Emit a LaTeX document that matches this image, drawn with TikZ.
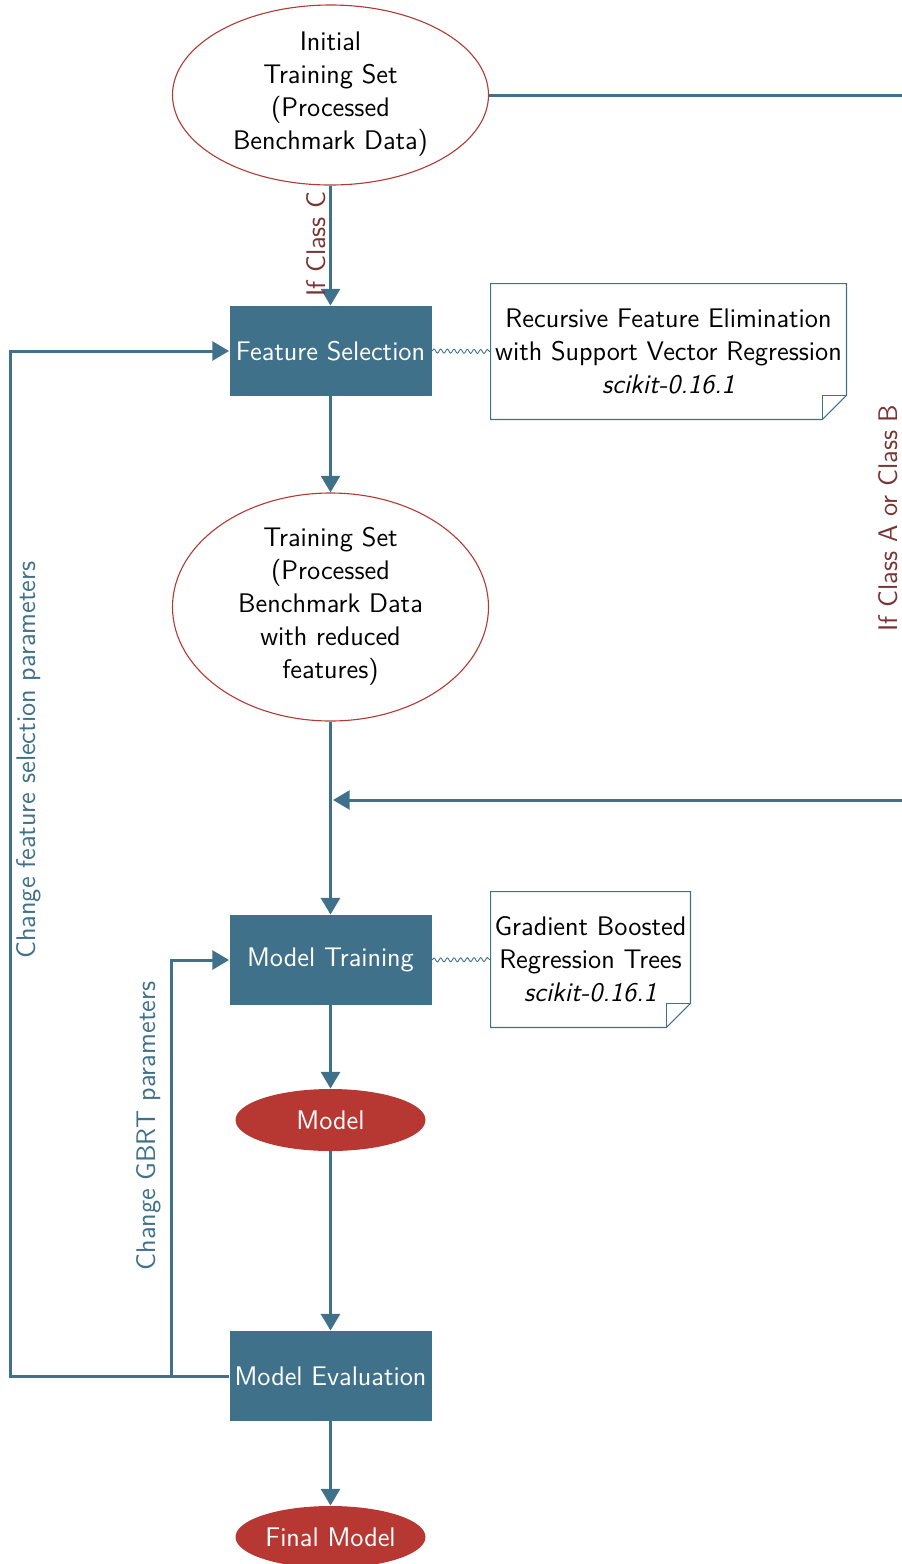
\documentclass[tikz,border=0pt]{standalone}
\usetikzlibrary{arrows.meta,shapes.geometric,decorations.pathmorphing}
\definecolor{steel}{HTML}{40718A}
\definecolor{redfill}{HTML}{B73832}
\definecolor{redline}{HTML}{B23A35}
\definecolor{lblred}{HTML}{7A3434}
\begin{document}
\begin{tikzpicture}[x=0.45pt,y=-0.45pt,
  font=\sffamily\fontsize{12.1}{14.85}\selectfont,
  proc/.style={rectangle, fill=steel, text=white, minimum width=90.9pt, minimum height=40.5pt, inner sep=0pt},
  dataell/.style={ellipse, draw=redline, line width=0.5pt, minimum width=142.2pt, inner sep=0pt},
  modell/.style={ellipse, fill=redfill, text=white, minimum width=85.5pt, minimum height=27.9pt, inner sep=0pt},
  flow/.style={draw=steel, line width=1.35pt, -{Triangle[length=7.5pt,width=8.5pt]}},
  link/.style={draw=steel, line width=1.35pt},
  notebox/.style={rectangle, align=center, inner sep=0pt, minimum height=60.75pt},
  noteline/.style={draw=steel, line width=0.5pt},
  wiggle/.style={draw=steel, line width=0.4pt, decorate, decoration={snake, amplitude=0.9pt, segment length=3pt}},
  lbl/.style={rotate=90, inner sep=0pt}
]
\useasboundingbox (0,0) rectangle (902,1564);

% data ellipses
\node[dataell, minimum height=81pt] (e1) at (330.5,95) {};
\node[align=center] (e1t) at (330.5,94) {Initial\\Training Set\\(Processed\\Benchmark Data)};
\node[dataell, minimum height=102.6pt] (e2) at (330.5,607) {};
\node[align=center] (e2t) at (330.5,606) {Training Set\\(Processed\\Benchmark Data\\with reduced\\features)};

% process boxes
\node[proc] (fs) at (330.5,351) {Feature Selection};
\node[proc] (mt) at (330.5,960) {Model Training};
\node[proc] (me) at (330.5,1376) {Model Evaluation};

% model ellipses
\node[modell] (mo) at (330.5,1120) {Model};
\node[modell] (fm) at (330.5,1537) {Final Model};

% notes
\node[notebox, minimum width=159.75pt] (n1) at (668.5,351.5) {Recursive Feature Elimination\\with Support Vector Regression\\\textit{scikit-0.16.1}};
\draw[noteline] (n1.north west) -- (n1.north east) -- ([yshift=10.8pt]n1.south east) -- ([xshift=-10.8pt]n1.south east) -- (n1.south west) -- cycle;
\draw[noteline] ([yshift=10.8pt]n1.south east) -- ([xshift=-10.8pt,yshift=10.8pt]n1.south east) -- ([xshift=-10.8pt]n1.south east);

\node[notebox, minimum width=89.55pt] (n2) at (590.5,959.5) {Gradient Boosted\\Regression Trees\\\textit{scikit-0.16.1}};
\draw[noteline] (n2.north west) -- (n2.north east) -- ([yshift=10.8pt]n2.south east) -- ([xshift=-10.8pt]n2.south east) -- (n2.south west) -- cycle;
\draw[noteline] ([yshift=10.8pt]n2.south east) -- ([xshift=-10.8pt,yshift=10.8pt]n2.south east) -- ([xshift=-10.8pt]n2.south east);

\draw[wiggle] (fs.east) -- (n1.west);
\draw[wiggle] (mt.east) -- (n2.west);

% main flow
\draw[flow] (e1.south) -- (fs.north);
\draw[flow] (fs.south) -- (e2.north);
\draw[flow] (e2.south) -- (mt.north);
\draw[flow] (mt.south) -- (mo.north);
\draw[flow] (mo.south) -- (me.north);
\draw[flow] (me.south) -- (fm.north);

% bypass for class A or B
\coordinate (m) at (333,800);
\coordinate (r1) at (905,95);
\coordinate (r2) at (905,800);
\draw[flow] (e1.east) -- (r1) -- (r2) -- (m);

% feedback loops
\coordinate (lft) at (10,1376);
\coordinate (j1) at (171,1376);
\draw[flow] (me.west) -- (lft) |- (fs.west);
\draw[flow] (j1) |- (mt.west);

% labels
\node[lbl, text=lblred] (lC) at (316,244) {If Class C};
\node[lbl, text=lblred] (lAB) at (888,518) {If Class A or Class B};
\node[lbl, text=steel] (lfs) at (29,760) {Change feature selection parameters};
\node[lbl, text=steel] (lgb) at (149,1126) {Change GBRT parameters};
\end{tikzpicture}
\end{document}
